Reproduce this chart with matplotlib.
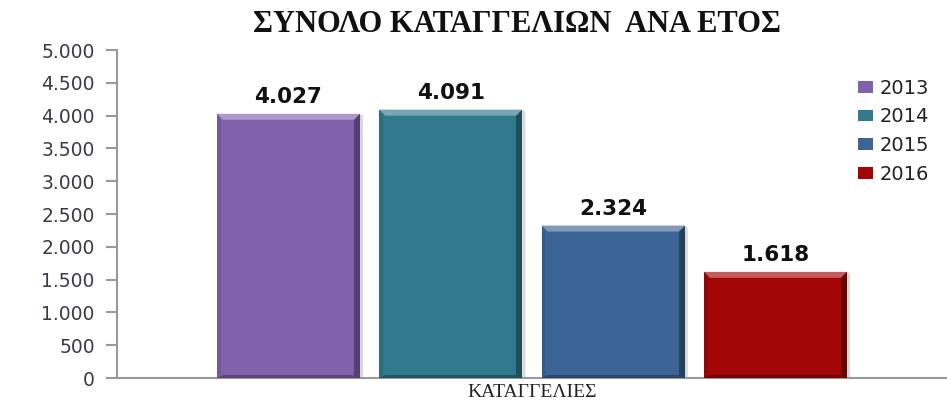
import matplotlib
matplotlib.use("Agg")
import matplotlib.pyplot as plt
from matplotlib.patches import Polygon
import matplotlib.colors as mcolors
import numpy as np

# Data
category = "ΚΑΤΑΓΓΕΛΙΕΣ"
years = ["2013", "2014", "2015", "2016"]
complaints = [4027, 4091, 2324, 1618]
value_labels = ["4.027", "4.091", "2.324", "1.618"]
yticks = [0, 500, 1000, 1500, 2000, 2500, 3000, 3500, 4000, 4500, 5000]
ytick_labels = ["0", "500", "1.000", "1.500", "2.000", "2.500", "3.000",
                "3.500", "4.000", "4.500", "5.000"]
title = "ΣΥΝΟΛΟ ΚΑΤΑΓΓΕΛΙΩΝ  ΑΝΑ ΕΤΟΣ"

colors = ["#8062AC", "#31798C", "#3C6496", "#A20606"]

W, H = 947, 403
fig = plt.figure(figsize=(W / 100, H / 100), dpi=100)
fig.patch.set_facecolor("white")
ax = fig.add_axes([117 / W, 1 - 378 / H, (W - 117) / W, (378 - 50) / H])

ax.set_xlim(-0.5, 0.5)
ax.set_ylim(0, 5000)

step = 0.1956
width = 0.1723
offsets = (np.arange(len(years)) - 1.5) * step

ax_w_px = W - 117
ax_h_px = 378 - 50
px_x = 1.0 / ax_w_px
px_y = 5000 / ax_h_px


def shade(c, f):
    r, g, b = mcolors.to_rgb(c)
    if f >= 0:
        return (r + (1 - r) * f, g + (1 - g) * f, b + (1 - b) * f)
    return (r * (1 + f), g * (1 + f), b * (1 + f))


bars = ax.bar(offsets, complaints, width=width, color=colors, zorder=3,
              label=years, linewidth=0)

bev = 6
for rect, c in zip(bars, colors):
    x0 = rect.get_x()
    x1 = x0 + rect.get_width()
    y1 = rect.get_height()
    bx = bev * px_x
    by = bev * px_y
    # soft shadow on the right
    ax.add_patch(Polygon([(x1, 0), (x1 + 3 * px_x, 0), (x1 + 3 * px_x, y1 - 2 * px_y),
                          (x1, y1)], closed=True, facecolor="#d8d8d8",
                         edgecolor="none", zorder=2))
    # top highlight
    ax.add_patch(Polygon([(x0, y1), (x1, y1), (x1 - bx, y1 - by), (x0 + bx, y1 - by)],
                         closed=True, facecolor=shade(c, 0.35), edgecolor="none", zorder=4))
    # right dark edge
    ax.add_patch(Polygon([(x1, y1), (x1, 0), (x1 - bx, 0), (x1 - bx, y1 - by)],
                         closed=True, facecolor=shade(c, -0.35), edgecolor="none", zorder=4))
    # left edge
    ax.add_patch(Polygon([(x0, y1), (x0, 0), (x0 + bx * 0.6, 0), (x0 + bx * 0.6, y1 - by)],
                         closed=True, facecolor=shade(c, -0.1), edgecolor="none", zorder=4))
    # bottom edge
    ax.add_patch(Polygon([(x0, 0), (x1, 0), (x1 - bx, by * 0.5), (x0 + bx, by * 0.5)],
                         closed=True, facecolor=shade(c, -0.3), edgecolor="none", zorder=4))

for rect, lab in zip(bars, value_labels):
    ax.text(rect.get_x() + rect.get_width() / 2, rect.get_height() + 100, lab,
            ha="center", va="bottom", fontsize=15.5, fontweight="bold",
            family="DejaVu Sans", color="#111111", zorder=5)

# Axes styling
for s in ["top", "right"]:
    ax.spines[s].set_visible(False)
ax.spines["left"].set_color("#999999")
ax.spines["bottom"].set_color("#999999")
ax.spines["left"].set_linewidth(1.5)
ax.spines["bottom"].set_linewidth(1.5)

ax.set_yticks(yticks)
ax.set_yticklabels(ytick_labels, family="DejaVu Sans", fontsize=13.5, color="#3a3a48")
ax.tick_params(axis="y", direction="out", length=8, width=1.5, color="#999999", pad=8)
ax.set_xticks([0])
ax.set_xticklabels([category], family="Liberation Serif", fontsize=14, color="#222222")
ax.tick_params(axis="x", length=0, pad=4)

fig.text(517 / W, 1 - 24 / H, title, ha="center", va="center",
         family="Liberation Serif", fontweight="bold", fontsize=22, color="#111111")

leg = ax.legend(loc="upper left", bbox_to_anchor=((850 - 117) / ax_w_px, 1 - 21 / ax_h_px),
                frameon=False, prop={"family": "DejaVu Sans", "size": 14},
                handlelength=0.8, handleheight=0.55, handletextpad=0.3,
                labelspacing=0.5, borderaxespad=0)
for t in leg.get_texts():
    t.set_color("#222222")

fig.savefig("out.png", dpi=100, facecolor="white")
